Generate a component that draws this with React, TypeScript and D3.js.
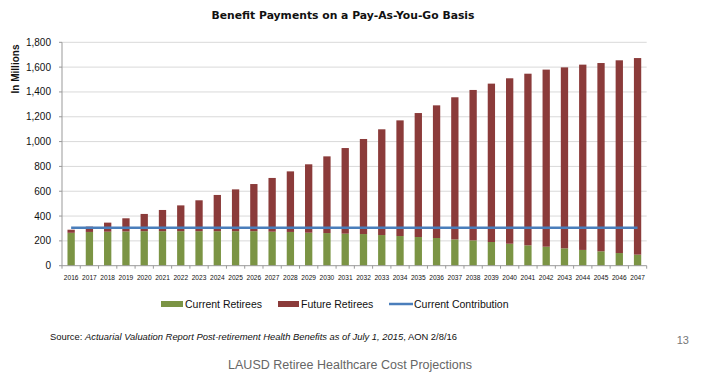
import React from "react";
import * as d3 from "d3";

const years: string[] = [
  "2016","2017","2018","2019","2020","2021","2022","2023","2024","2025","2026",
  "2027","2028","2029","2030","2031","2032","2033","2034","2035","2036","2037",
  "2038","2039","2040","2041","2042","2043","2044","2045","2046","2047",
];
const currentRetirees: number[] = [
  265, 272, 274, 276, 278, 278, 278, 278, 278, 278, 278,
  274, 272, 266, 263, 258, 255, 247, 239, 231, 223, 212,
  204, 191, 177, 164, 153, 140, 127, 116, 102, 89,
];
const totalPayments: number[] = [
  290, 315, 347, 382, 417, 449, 486, 527, 570, 615, 658,
  707, 760, 817, 881, 948, 1021, 1099, 1171, 1230, 1292, 1357,
  1416, 1467, 1510, 1547, 1580, 1598, 1620, 1633, 1655, 1673,
];
const currentContribution = 305;
const yTicks: number[] = [0, 200, 400, 600, 800, 1000, 1200, 1400, 1600, 1800];

const GREEN = "#7B9444";
const RED = "#8B3B3A";
const BLUE = "#4A7EBB";

export default function App() {
  const W = 708, H = 387;
  const left = 62, right = 646.7, top = 42.3, bottom = 265.7;
  const x = d3.scaleBand<string>().domain(years).range([left, right]).paddingInner(0.6).paddingOuter(0.3);
  const xb = d3.scaleBand<string>().domain(years).range([left, right]);
  const y = d3.scaleLinear().domain([0, 1800]).range([bottom, top]);
  const fmt = d3.format(",");
  const font = "'Liberation Sans', Arial, sans-serif";

  return (
    <svg width={W} height={H} style={{ position: "absolute", left: 0, top: 0, background: "#fff" }}>
      <text x={343} y={19} textAnchor="middle" fontFamily="'DejaVu Sans', sans-serif" fontWeight="bold" fontSize={11} textLength={263} lengthAdjust="spacingAndGlyphs" fill="#111">
        Benefit Payments on a Pay-As-You-Go Basis
      </text>
      <text transform={`translate(19,69) rotate(-90)`} textAnchor="middle" fontFamily={font} fontWeight="bold" fontSize={10} fill="#111">
        In Millions
      </text>
      {yTicks.map((t) => (
        <g key={t}>
          {t > 0 && <line x1={left} x2={right} y1={y(t)} y2={y(t)} stroke="#d9d9d9" strokeWidth={1} />}
          <line x1={left - 3} x2={left} y1={y(t)} y2={y(t)} stroke="#999" />
          <text x={51} y={y(t) + 3.5} textAnchor="end" fontFamily={font} fontSize={10} fill="#111">{fmt(t)}</text>
        </g>
      ))}
      {years.map((yr, i) => (
        <g key={yr}>
          <rect x={x(yr)} width={x.bandwidth()} y={y(currentRetirees[i])} height={y(0) - y(currentRetirees[i])} fill={GREEN} />
          <rect x={x(yr)} width={x.bandwidth()} y={y(totalPayments[i])} height={y(currentRetirees[i]) - y(totalPayments[i])} fill={RED} />
          <text x={(xb(yr) as number) + xb.bandwidth() / 2} y={280} textAnchor="middle" fontFamily={font} fontSize={6.6} fill="#111">{yr}</text>
        </g>
      ))}
      <line x1={left} x2={left} y1={top} y2={bottom} stroke="#999" />
      <line x1={left} x2={right} y1={bottom} y2={bottom} stroke="#999" />
      {years.concat(["end"]).map((yr, i) => (
        <line key={"t" + i} x1={left + i * xb.step()} x2={left + i * xb.step()} y1={bottom} y2={bottom + 3} stroke="#999" />
      ))}
      <line
        x1={(xb(years[0]) as number) + xb.bandwidth() / 2}
        x2={(xb(years[years.length - 1]) as number) + xb.bandwidth() / 2}
        y1={y(currentContribution)} y2={y(currentContribution)}
        stroke={BLUE} strokeWidth={2.5}
      />
      {/* legend */}
      <rect x={161} y={301} width={22} height={6} fill={GREEN} />
      <text x={185} y={307.5} fontFamily={font} fontSize={10.5} fill="#111">Current Retirees</text>
      <rect x={278} y={301} width={21} height={6} fill={RED} />
      <text x={301} y={307.5} fontFamily={font} fontSize={10.5} fill="#111">Future Retirees</text>
      <line x1={389} x2={413} y1={304} y2={304} stroke={BLUE} strokeWidth={2.5} />
      <text x={414} y={307.5} fontFamily={font} fontSize={10.5} fill="#111">Current Contribution</text>
      {/* source */}
      <text x={50} y={340} fontFamily={font} fontSize={9} fill="#111" textLength={407} lengthAdjust="spacingAndGlyphs">
        Source: <tspan fontStyle="italic">Actuarial Valuation Report Post-retirement Health Benefits as of July 1, 2015</tspan>, AON  2/8/16
      </text>
      <text x={689} y={344} textAnchor="end" fontFamily={font} fontSize={11} fill="#777">13</text>
      <text x={350} y={369} textAnchor="middle" fontFamily={font} fontSize={12.5} fill="#666">LAUSD Retiree Healthcare Cost Projections</text>
    </svg>
  );
}
